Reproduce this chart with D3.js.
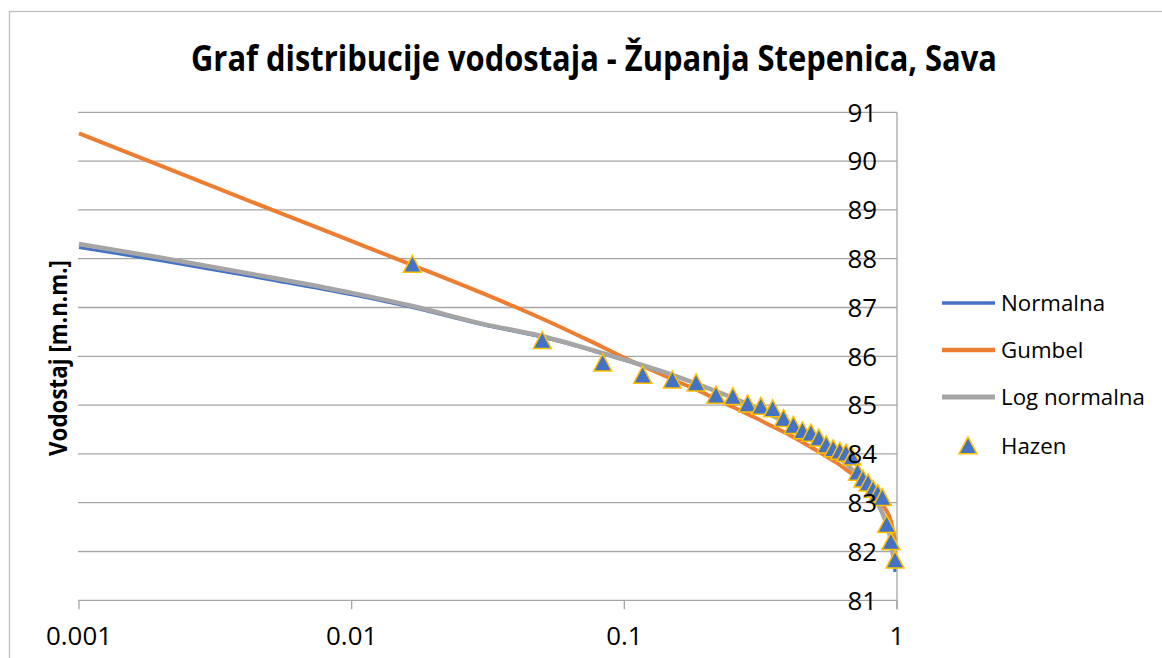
<!DOCTYPE html>
<html>
<head>
<meta charset="utf-8">
<script src="https://cdn.jsdelivr.net/npm/d3@7"></script>
<style>
body { margin: 0; background: #fff; }
text { font-family: 'Open Sans', sans-serif; fill: #000; }
</style>
</head>
<body>
<svg id="chart" width="1162" height="658"></svg>
<script>
'use strict';

var titleText = 'Graf distribucije vodostaja - Županja Stepenica, Sava';
var yTitle = 'Vodostaj [m.n.m.]';
var seriesNames = ['Normalna', 'Gumbel', 'Log normalna', 'Hazen'];

// probabilities where the fitted curves were read
var curveProb = [0.001, 0.002, 0.005, 0.01, 0.0167, 0.03, 0.05, 0.075, 0.1, 0.15, 0.2, 0.25,
    0.3, 0.35, 0.4, 0.45, 0.5, 0.55, 0.6, 0.65, 0.7, 0.75, 0.8, 0.85, 0.9, 0.95, 0.9833];
var normalna = [88.23, 87.96, 87.57, 87.26, 87.00, 86.65, 86.39, 86.13, 85.92, 85.61, 85.36, 85.15,
    84.96, 84.78, 84.61, 84.45, 84.29, 84.13, 83.97, 83.80, 83.62, 83.43, 83.22, 82.97, 82.66, 82.19, 81.58];
var gumbel = [90.57, 89.90, 89.02, 88.36, 87.87, 87.30, 86.77, 86.31, 85.97, 85.53, 85.22, 84.96,
    84.75, 84.56, 84.40, 84.24, 84.09, 83.95, 83.82, 83.68, 83.55, 83.41, 83.26, 83.10, 82.90, 82.62, 82.22];
var logNormalna = [88.30, 88.02, 87.62, 87.30, 87.03, 86.67, 86.41, 86.14, 85.93, 85.62, 85.36, 85.15,
    84.96, 84.78, 84.61, 84.45, 84.28, 84.12, 83.96, 83.80, 83.62, 83.43, 83.23, 82.98, 82.68, 82.22, 81.64];

// Hazen plotting positions and observed levels
var hazenProb = [0.0167, 0.05, 0.0833, 0.1167, 0.15, 0.1833, 0.2167, 0.25, 0.2833, 0.3167,
    0.35, 0.3833, 0.4167, 0.45, 0.4833, 0.5167, 0.55, 0.5833, 0.6167, 0.65,
    0.6833, 0.7167, 0.75, 0.7833, 0.8167, 0.85, 0.8833, 0.9167, 0.95, 0.9833];
var hazenLevel = [87.88, 86.32, 85.86, 85.61, 85.51, 85.45, 85.2, 85.17, 85.02, 84.97,
    84.92, 84.72, 84.58, 84.47, 84.42, 84.32, 84.18, 84.1, 84.05, 84.01,
    83.93, 83.62, 83.48, 83.4, 83.27, 83.18, 83.1, 82.55, 82.2, 81.82];

var xTicks = [0.001, 0.01, 0.1, 1];
var xTickLabels = ['0.001', '0.01', '0.1', '1'];
var yTicks = [81, 82, 83, 84, 85, 86, 87, 88, 89, 90, 91];

var colors = ['#4472C4', '#ED7D31', '#A5A5A5', '#4472C4'];
var widths = [3, 4, 4.5];

var svg = d3.select('#chart');

var x = d3.scaleLog().domain([0.001, 1]).range([79, 897]);
var y = d3.scaleLinear().domain([81, 91]).range([600.3, 112.3]);

// size text to a target width; squeeze > 1 makes glyphs taller and narrower
function fitFont(sel, target, squeeze) {
    var w = sel.node().getComputedTextLength();
    var fs = parseFloat(sel.style('font-size'));
    var size = fs * target / w * (squeeze || 1);
    sel.style('font-size', size + 'px');
    if (squeeze) {
        sel.attr('textLength', target).attr('lengthAdjust', 'spacingAndGlyphs');
    }
    return size;
}

// chart border
svg.append('rect')
    .attr('x', 9.5).attr('y', 11.5)
    .attr('width', 1200).attr('height', 700)
    .attr('fill', 'none')
    .attr('stroke', '#bfbfbf')
    .attr('stroke-width', 1.3);

// gridlines
svg.selectAll('.grid')
    .data(yTicks)
    .enter().append('line')
    .attr('class', 'grid')
    .attr('x1', x(0.001) - 1).attr('x2', x(1))
    .attr('y1', function(d) { return y(d); })
    .attr('y2', function(d) { return y(d); })
    .attr('stroke', '#a6a6a6')
    .attr('stroke-width', 1.3);

// right axis line
svg.append('line')
    .attr('x1', x(1)).attr('x2', x(1))
    .attr('y1', y(91)).attr('y2', y(81) + 9)
    .attr('stroke', '#a6a6a6').attr('stroke-width', 1.3);

// x ticks
svg.selectAll('.xtick')
    .data(xTicks)
    .enter().append('line')
    .attr('class', 'xtick')
    .attr('x1', function(d) { return x(d); })
    .attr('x2', function(d) { return x(d); })
    .attr('y1', y(81)).attr('y2', y(81) + 9)
    .attr('stroke', '#a6a6a6').attr('stroke-width', 1.3);

var line = d3.line()
    .x(function(d) { return x(d[0]); })
    .y(function(d) { return y(d[1]); })
    .curve(d3.curveMonotoneX);

var curves = [normalna, gumbel, logNormalna];
curves.forEach(function(vals, i) {
    svg.append('path')
        .datum(d3.zip(curveProb, vals))
        .attr('d', line)
        .attr('fill', 'none')
        .attr('stroke', colors[i])
        .attr('stroke-width', widths[i])
        .attr('stroke-linejoin', 'round');
});

var tri = 'M0,-9.2L9,7.8L-9,7.8Z';

svg.selectAll('.hazen')
    .data(d3.zip(hazenProb, hazenLevel))
    .enter().append('path')
    .attr('class', 'hazen')
    .attr('d', tri)
    .attr('transform', function(d) { return 'translate(' + x(d[0]) + ',' + y(d[1]) + ')'; })
    .attr('fill', colors[3])
    .attr('stroke', '#FFC000')
    .attr('stroke-width', 1.5)
    .attr('stroke-linejoin', 'miter');

// y tick labels
var yLab = svg.selectAll('.ylab')
    .data(yTicks)
    .enter().append('text')
    .attr('class', 'ylab')
    .attr('x', 877)
    .attr('y', function(d) { return y(d); })
    .attr('dy', '0.36em')
    .attr('text-anchor', 'end')
    .style('font-size', '22px')
    .text(function(d) { return d; });

// x tick labels
var xLab = svg.selectAll('.xlab')
    .data(xTicks)
    .enter().append('text')
    .attr('class', 'xlab')
    .attr('x', function(d) { return x(d); })
    .attr('y', 645)
    .attr('text-anchor', 'middle')
    .style('font-size', '22px')
    .text(function(d, i) { return xTickLabels[i]; });

var tickSize = fitFont(xLab.filter(function(d, i) { return i === 0; }), 66);
xLab.style('font-size', tickSize + 'px');
yLab.style('font-size', tickSize + 'px');

// title
var title = svg.append('text')
    .attr('x', 594).attr('y', 71)
    .attr('text-anchor', 'middle')
    .style('font-weight', 'bold')
    .style('font-size', '28px')
    .text(titleText);
fitFont(title, 806, 1.18);

// y axis title
var yt = svg.append('text')
    .attr('transform', 'translate(67,358) rotate(-90)')
    .attr('text-anchor', 'middle')
    .style('font-weight', 'bold')
    .style('font-size', '20px')
    .text(yTitle);
fitFont(yt, 196, 1.15);

// legend
var legendY = [303, 350, 397, 446];
var legend = svg.selectAll('.legend')
    .data(seriesNames)
    .enter().append('g')
    .attr('class', 'legend')
    .attr('transform', function(d, i) { return 'translate(0,' + legendY[i] + ')'; });

legend.filter(function(d, i) { return i < 3; })
    .append('line')
    .attr('x1', 942).attr('x2', 995)
    .attr('y1', 0).attr('y2', 0)
    .attr('stroke', function(d, i) { return colors[i]; })
    .attr('stroke-width', function(d, i) { return widths[i] + 0.5; });

legend.filter(function(d, i) { return i === 3; })
    .append('path')
    .attr('d', tri)
    .attr('transform', 'translate(968,0)')
    .attr('fill', colors[3])
    .attr('stroke', '#FFC000')
    .attr('stroke-width', 1.5);

var legText = legend.append('text')
    .attr('x', 1001)
    .attr('y', 0)
    .attr('dy', '0.36em')
    .style('font-size', '22px')
    .text(function(d) { return d; });

var legSize = fitFont(legText.filter(function(d, i) { return i === 2; }), 144);
legText.style('font-size', legSize + 'px');
</script>
</body>
</html>
